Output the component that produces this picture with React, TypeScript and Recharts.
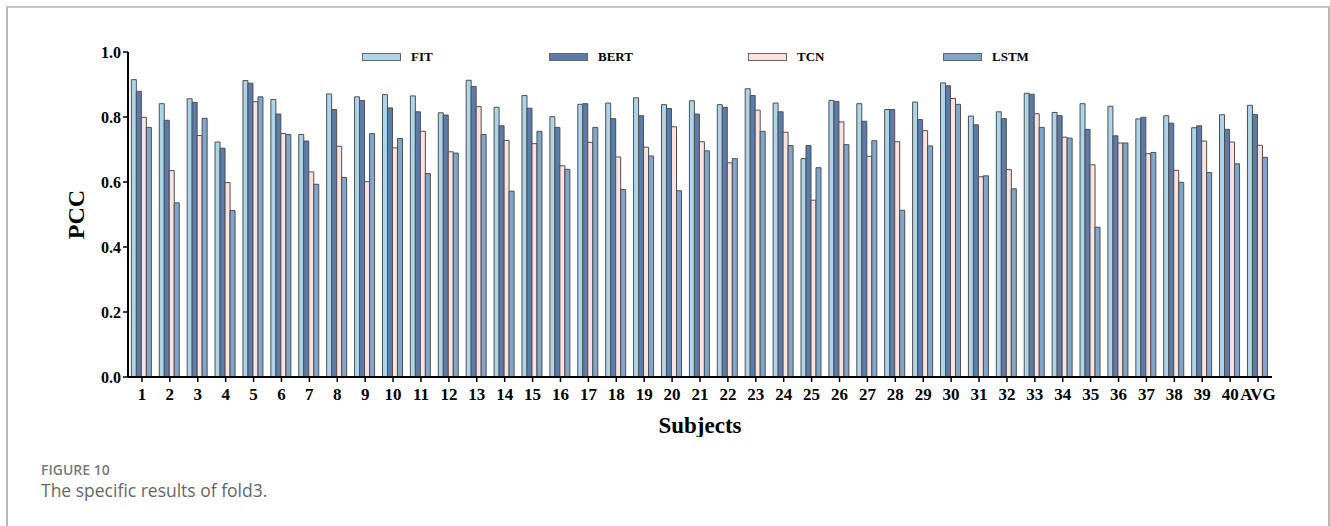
import React from 'react';
import { BarChart, Bar, XAxis, YAxis } from 'recharts';

// Per-subject PCC, fold 3
const subjects = [
  '1', '2', '3', '4', '5', '6', '7', '8', '9', '10',
  '11', '12', '13', '14', '15', '16', '17', '18', '19', '20',
  '21', '22', '23', '24', '25', '26', '27', '28', '29', '30',
  '31', '32', '33', '34', '35', '36', '37', '38', '39', '40', 'AVG',
];

const fitScores = [
  0.915, 0.841, 0.856, 0.723, 0.912, 0.854, 0.746, 0.871, 0.862, 0.869,
  0.865, 0.813, 0.913, 0.830, 0.866, 0.801, 0.839, 0.843, 0.859, 0.838,
  0.850, 0.838, 0.887, 0.843, 0.672, 0.851, 0.841, 0.823, 0.846, 0.905,
  0.803, 0.816, 0.873, 0.814, 0.841, 0.833, 0.794, 0.804, 0.767, 0.807, 0.836,
];

const bertScores = [
  0.879, 0.790, 0.845, 0.704, 0.904, 0.809, 0.726, 0.823, 0.851, 0.828,
  0.816, 0.806, 0.894, 0.773, 0.827, 0.768, 0.841, 0.795, 0.804, 0.826,
  0.809, 0.830, 0.866, 0.816, 0.712, 0.848, 0.787, 0.823, 0.792, 0.896,
  0.776, 0.795, 0.870, 0.804, 0.762, 0.742, 0.799, 0.781, 0.773, 0.762, 0.808,
];

const tcnScores = [
  0.799, 0.635, 0.743, 0.598, 0.847, 0.749, 0.631, 0.710, 0.601, 0.705,
  0.756, 0.693, 0.832, 0.728, 0.718, 0.650, 0.722, 0.677, 0.707, 0.770,
  0.724, 0.659, 0.821, 0.753, 0.544, 0.785, 0.679, 0.724, 0.758, 0.857,
  0.616, 0.638, 0.810, 0.738, 0.653, 0.720, 0.687, 0.636, 0.726, 0.723, 0.713,
];

const lstmScores = [
  0.768, 0.536, 0.796, 0.512, 0.862, 0.746, 0.593, 0.614, 0.749, 0.734,
  0.626, 0.689, 0.746, 0.572, 0.756, 0.639, 0.768, 0.577, 0.680, 0.573,
  0.696, 0.672, 0.756, 0.712, 0.644, 0.715, 0.727, 0.513, 0.711, 0.839,
  0.619, 0.579, 0.768, 0.735, 0.461, 0.720, 0.691, 0.599, 0.629, 0.656, 0.676,
];

const yTicks = [0, 0.2, 0.4, 0.6, 0.8, 1.0];

const series = [
  { key: 'FIT', color: '#acd5ea', legendX: 362 },
  { key: 'BERT', color: '#5b7cab', legendX: 549 },
  { key: 'TCN', color: '#fde2e2', legendX: 748 },
  { key: 'LSTM', color: '#81a6cb', legendX: 943 },
];

const data = subjects.map((subject, i) => ({
  subject,
  FIT: fitScores[i],
  BERT: bertScores[i],
  TCN: tcnScores[i],
  LSTM: lstmScores[i],
}));

const serif = '"Liberation Serif", "Times New Roman", serif';
const xTickStyle = { fontFamily: serif, fontSize: 17, fontWeight: 700, fill: '#000' };
const yTickStyle = { fontFamily: serif, fontSize: 16, fontWeight: 700, fill: '#000' };

const App: React.FC = () => {
  return (
    <div style={{ position: 'absolute', left: 0, top: 0, width: 1330, height: 526, background: '#fff', overflow: 'hidden' }}>
      {/* page frame */}
      <div
        style={{
          position: 'absolute',
          left: 6,
          top: 6,
          width: 1320,
          height: 560,
          borderTop: '2px solid #c4c4c4',
          borderLeft: '2px solid #b8b8b8',
          borderRight: '2px solid #b8b8b8',
        }}
      />

      <div style={{ position: 'absolute', left: 0, top: 0 }}>
        <BarChart
          width={1330}
          height={437}
          data={data}
          margin={{ top: 52, right: 58, left: 60, bottom: 0 }}
          barCategoryGap="12%"
          barGap={0}
        >
          <XAxis
            dataKey="subject"
            interval={0}
            tick={xTickStyle}
            tickSize={5}
            tickMargin={6}
            height={60}
            axisLine={{ stroke: '#000', strokeWidth: 2 }}
            tickLine={{ stroke: '#000', strokeWidth: 1.5 }}
            label={{
              value: 'Subjects',
              position: 'insideBottom',
              offset: 4,
              style: { fontFamily: serif, fontSize: 23, fontWeight: 700, fill: '#000' },
            }}
          />
          <YAxis
            domain={[0, 1]}
            ticks={yTicks}
            width={68}
            tick={yTickStyle}
            tickSize={5}
            tickFormatter={(v: number) => v.toFixed(1)}
            axisLine={{ stroke: '#000', strokeWidth: 2 }}
            tickLine={{ stroke: '#000', strokeWidth: 1.5 }}
            label={{
              value: 'PCC',
              angle: -90,
              position: 'insideLeft',
              offset: 15,
              style: { fontFamily: serif, fontSize: 24, fontWeight: 700, fill: '#000', textAnchor: 'middle' },
            }}
          />
          {series.map((s) => (
            <Bar
              key={s.key}
              dataKey={s.key}
              fill={s.color}
              stroke="#4f4f4f"
              strokeWidth={1}
              isAnimationActive={false}
            />
          ))}
        </BarChart>
      </div>

      {/* legend row */}
      {series.map((s) => (
        <div key={s.key} style={{ position: 'absolute', left: s.legendX, top: 49, height: 16, display: 'flex', alignItems: 'center' }}>
          <div style={{ width: 37, height: 6, background: s.color, border: '1px solid #666' }} />
          <span style={{ marginLeft: 10, fontFamily: serif, fontSize: 13, fontWeight: 700, color: '#000' }}>{s.key}</span>
        </div>
      ))}

      {/* caption */}
      <div style={{ position: 'absolute', left: 41, top: 462, lineHeight: '16px', fontFamily: '"Open Sans", sans-serif', fontSize: 14, fontWeight: 600, color: '#7a7a7a' }}>
        FIGURE 10
      </div>
      <div style={{ position: 'absolute', left: 41, top: 480, lineHeight: '20px', fontFamily: '"Open Sans", sans-serif', fontSize: 17.5, color: '#666' }}>
        The specific results of fold3.
      </div>
    </div>
  );
};

export default App;
